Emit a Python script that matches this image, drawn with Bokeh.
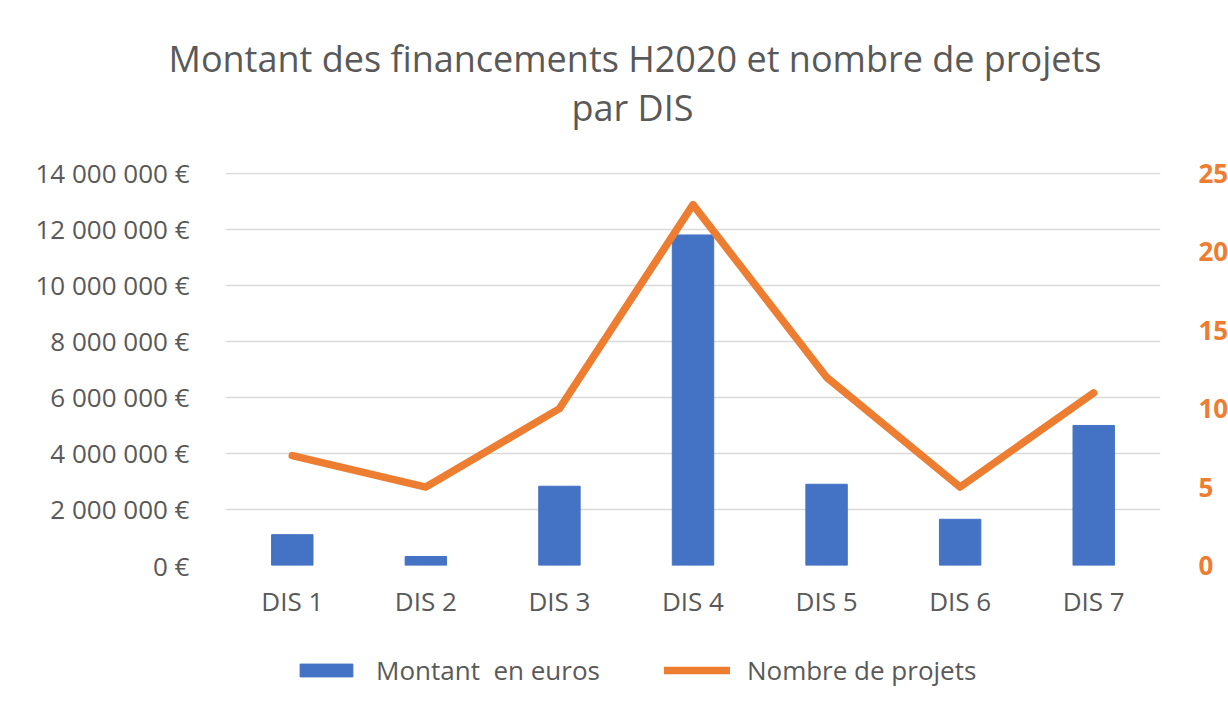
from bokeh.plotting import figure
from bokeh.layouts import column
from bokeh.models import (Range1d, LinearAxis, FixedTicker, CustomJSTickFormatter,
                          Legend, LegendItem, Title, FactorRange, ColumnDataSource)
from bokeh.embed import file_html
from bokeh.resources import INLINE

categories = ["DIS 1", "DIS 2", "DIS 3", "DIS 4", "DIS 5", "DIS 6", "DIS 7"]
montant = [1100000, 320000, 2830000, 11800000, 2900000, 1650000, 5000000]
projets = [7, 5, 10, 23, 12, 5, 11]
left_ticks = [0, 2000000, 4000000, 6000000, 8000000, 10000000, 12000000, 14000000]
right_ticks = [0, 5, 10, 15, 20, 25]

FONT = "Open Sans"
GRAY = "#595959"
BLUE = "#4472C4"
ORANGE = "#ED7D31"
FS = "26px"

src = ColumnDataSource(dict(cat=categories, montant=montant, projets=projets))

p = figure(x_range=FactorRange(*categories), y_range=Range1d(0, 14030000),
           frame_width=935, frame_height=393, output_backend="svg",
           toolbar_location=None,
           min_border_left=225, min_border_right=60, min_border_top=172,
           min_border_bottom=75)
p.title = None
p.extra_y_ranges = {"right": Range1d(0, 25.05)}

bars = p.vbar(x="cat", top="montant", width=0.31, color=BLUE, source=src)
line = p.line(x="cat", y="projets", y_range_name="right", line_width=7.5,
              color=ORANGE, line_join="round", line_cap="round", source=src)

# left axis
ya = p.yaxis[0]
ya.ticker = FixedTicker(ticks=left_ticks)
ya.formatter = CustomJSTickFormatter(code="""
  return Math.round(tick).toString().replace(/\\B(?=(\\d{3})+(?!\\d))/g, " ") + " \u20ac";
""")
ya.axis_line_color = None
ya.major_tick_line_color = None
ya.minor_tick_line_color = None
ya.major_label_text_font = FONT
ya.major_label_text_font_size = FS
ya.major_label_text_color = GRAY
ya.major_label_standoff = 30

# right axis
ra = LinearAxis(y_range_name="right", ticker=FixedTicker(ticks=right_ticks))
ra.axis_line_color = None
ra.major_tick_line_color = None
ra.minor_tick_line_color = None
ra.major_label_text_font = FONT
ra.major_label_text_font_size = FS
ra.major_label_text_font_style = "bold"
ra.major_label_text_color = ORANGE
ra.major_label_standoff = 32
p.add_layout(ra, "right")

# x axis
xa = p.xaxis[0]
xa.axis_line_color = None
xa.major_tick_line_color = None
xa.minor_tick_line_color = None
xa.major_label_text_font = FONT
xa.major_label_text_font_size = FS
xa.major_label_text_color = GRAY
xa.major_label_standoff = 11

p.xgrid.grid_line_color = None
p.ygrid.ticker = FixedTicker(ticks=left_ticks)
p.ygrid.grid_line_color = "#d9d9d9"
p.ygrid.grid_line_width = 1.5
p.outline_line_color = None

# spacer between plot frame and title lines
p.add_layout(Title(text=" ", text_font=FONT, text_font_size="20px",
                   standoff=12), "above")
p.add_layout(Title(text="par DIS", align="left", offset=346, text_font=FONT,
                   text_font_size="36px", text_font_style="normal",
                   text_color=GRAY, standoff=0), "above")
p.add_layout(Title(text="Montant des financements H2020 et nombre de projets",
                   align="left", offset=-57, text_font=FONT, text_font_size="36px",
                   text_font_style="normal", text_color=GRAY, standoff=-4), "above")

# legend strip below the chart (frame aligned with the main chart's frame)
p2 = figure(width=1220, height=59, x_range=FactorRange(*categories),
            y_range=Range1d(0, 1), x_axis_type=None, y_axis_type=None,
            output_backend="svg", toolbar_location=None, min_border=0)
p2.title = None
p2.outline_line_color = None
p2.grid.visible = False
lb = p2.vbar(x="cat", top="montant", width=0.31, color=BLUE, source=src,
             visible=False)
ll = p2.line(x="cat", y="projets", line_width=7.5, color=ORANGE,
             line_cap="round", source=src, visible=False)

legend = Legend(items=[LegendItem(label="Montant  en euros", renderers=[lb]),
                       LegendItem(label="Nombre de projets", renderers=[ll])],
                orientation="horizontal", location="left",
                border_line_alpha=0, background_fill_alpha=0,
                inactive_fill_alpha=0,
                glyph_width=66, glyph_height=16, label_standoff=17, spacing=64,
                label_text_font=FONT, label_text_font_size=FS,
                label_text_color=GRAY, margin=64, padding=4)
p2.add_layout(legend, "center")

open("out.html", "w").write(file_html(column(p, p2, spacing=0), INLINE))
